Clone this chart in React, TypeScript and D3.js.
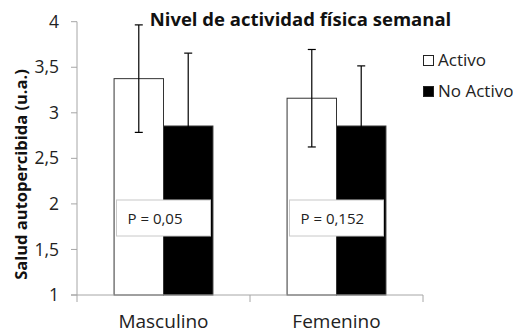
import React from "react";
import * as d3 from "d3";

const categories = ["Masculino", "Femenino"];
const series = ["Activo", "No Activo"];
const activoMeans = [3.375, 3.16];
const activoErrors = [0.59, 0.535];
const noActivoMeans = [2.855, 2.855];
const noActivoErrors = [0.8, 0.66];
const pLabels = ["P = 0,05", "P = 0,152"];
const yTicks = [1, 1.5, 2, 2.5, 3, 3.5, 4];
const yTickLabels = ["1", "1,5", "2", "2,5", "3", "3,5", "4"];
const title = "Nivel de actividad física semanal";
const yTitle = "Salud autopercibida (u.a.)";

const W = 513;
const H = 334;
const FONT = "'Open Sans', sans-serif";

export default function App() {
  const x0 = d3.scaleBand<string>().domain(categories).range([77, 423]).paddingInner(0).paddingOuter(0);
  const x1 = d3.scaleBand<string>().domain(series).range([0, x0.bandwidth()]).paddingInner(0).paddingOuter(0.75);
  const y = d3.scaleLinear().domain([1, 4]).range([295, 21.7]);
  const axisColor = "#a6a6a6";
  const fills = ["#ffffff", "#000000"];
  const means = [activoMeans, noActivoMeans];
  const errs = [activoErrors, noActivoErrors];
  const xBoundaries = [77, ...categories.map((c) => (x0(c) as number) + x0.bandwidth())];

  return (
    <svg width={W} height={H} style={{ position: "absolute", left: 0, top: 0, background: "#fff" }} fontFamily={FONT}>
      {/* y axis */}
      <line x1={77} x2={77} y1={y(4)} y2={y(1)} stroke={axisColor} strokeWidth={1} />
      {yTicks.map((t, i) => (
        <g key={t}>
          <line x1={71} x2={77} y1={y(t)} y2={y(t)} stroke={axisColor} />
          <text x={59} y={y(t)} dy="0.35em" textAnchor="end" fontSize={17.5} fill="#222">
            {yTickLabels[i]}
          </text>
        </g>
      ))}
      {/* bars */}
      {categories.map((c, ci) =>
        series.map((s, si) => {
          const bx = (x0(c) as number) + (x1(s) as number);
          const bw = x1.bandwidth();
          const m = means[si][ci];
          const e = errs[si][ci];
          const cx = bx + bw / 2;
          return (
            <g key={c + s}>
              <rect x={bx} y={y(m)} width={bw} height={y(1) - y(m)} fill={fills[si]} stroke="#333" strokeWidth={1} />
              <line x1={cx} x2={cx} y1={y(m + e)} y2={y(m - e)} stroke="#000" strokeWidth={1.2} />
              <line x1={cx - 4} x2={cx + 4} y1={y(m + e)} y2={y(m + e)} stroke="#000" strokeWidth={1.2} />
              <line x1={cx - 4} x2={cx + 4} y1={y(m - e)} y2={y(m - e)} stroke="#000" strokeWidth={1.2} />
            </g>
          );
        })
      )}
      {/* x axis */}
      <line x1={71} x2={423} y1={y(1)} y2={y(1)} stroke={axisColor} strokeWidth={1} />
      {xBoundaries.map((bx, i) => (
        <line key={i} x1={bx} x2={bx} y1={y(1)} y2={y(1) + 7} stroke={axisColor} />
      ))}
      {categories.map((c) => (
        <text key={c} x={(x0(c) as number) + x0.bandwidth() / 2} y={328} textAnchor="middle" fontSize={19} fill="#222">
          {c}
        </text>
      ))}
      {/* p-value boxes */}
      {categories.map((c, i) => {
        const cx = (x0(c) as number) + x0.bandwidth() / 2;
        return (
          <g key={"p" + c}>
            <rect x={cx - 47} y={200} width={94} height={36} fill="#fff" stroke="#c8c8c8" strokeWidth={1} />
            <text x={cx - 36} y={223.5} fontSize={15} fill="#222">
              {pLabels[i]}
            </text>
          </g>
        );
      })}
      {/* title */}
      <text x={300.5} y={26} textAnchor="middle" fontSize={18.5} fontWeight="bold" fill="#111">
        {title}
      </text>
      {/* y title */}
      <text transform={`translate(27,${174.5}) rotate(-90)`} textAnchor="middle" fontSize={16.5} fontWeight="bold" fill="#111">
        {yTitle}
      </text>
      {/* legend */}
      {series.map((s, i) => (
        <g key={s}>
          <rect x={423.5} y={55.5 + i * 31} width={10} height={10} fill={fills[i]} stroke="#222" strokeWidth={1} />
          <text x={438} y={66 + i * 31} fontSize={17} fill="#222">
            {s}
          </text>
        </g>
      ))}
    </svg>
  );
}
